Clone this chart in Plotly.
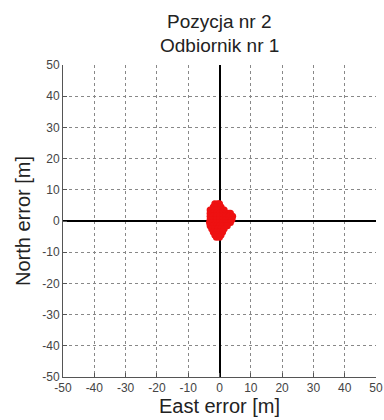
import plotly.graph_objects as go

# Data (east/north errors in metres)
rows_north = [5.5, 4.5, 3.5, 2.5, 1.5, 0.5, -0.5, -1.5, -2.5, -3.5, -4.5, -5.2]
rows_east = [
    [-1.5, -0.5, 0.0],
    [-2.0, -1.0, 0.0, 0.5],
    [-3.0, -2.0, -1.0, 0.0, 1.0, 1.5],
    [-3.0, -2.0, -1.0, 0.0, 1.0, 2.0, 3.0, 3.5],
    [-3.0, -2.0, -1.0, 0.0, 1.0, 2.0, 3.0, 4.2],
    [-3.0, -2.0, -1.0, 0.0, 1.0, 2.0, 3.0, 4.0],
    [-3.2, -2.0, -1.0, 0.0, 1.0, 2.0, 3.0, 3.5],
    [-3.0, -2.0, -1.0, 0.0, 1.0, 2.0, 2.5],
    [-2.5, -1.5, -0.5, 0.5, 1.5],
    [-2.0, -1.0, 0.0, 1.0],
    [-1.5, -0.5, 0.5],
    [-1.0, 0.0],
]
east = []
north = []
for n, es in zip(rows_north, rows_east):
    for e in es:
        east.append(e)
        north.append(n)

tick_vals = [-50, -40, -30, -20, -10, 0, 10, 20, 30, 40, 50]
tick_text = [str(v) for v in tick_vals]
title_lines = ["Pozycja nr 2", "Odbiornik nr 1"]

FONT = "Liberation Sans, Arial, sans-serif"

fig = go.Figure()
fig.add_trace(go.Scatter(
    x=east, y=north, mode="markers",
    marker=dict(color="#ee1111", size=7, line=dict(width=0)),
    hoverinfo="skip", showlegend=False,
))

axis_common = dict(
    range=[-50, 50], tickvals=tick_vals, ticktext=tick_text,
    showgrid=True, gridcolor="#888888", griddash="dot", gridwidth=1,
    zeroline=True, zerolinecolor="#000000", zerolinewidth=2,
    showline=True, linecolor="#555555", linewidth=1, mirror=False,
    ticks="inside", ticklen=4, tickcolor="#555555",
    tickfont=dict(family=FONT, size=12, color="#444444"),
    fixedrange=True, automargin=False,
)

fig.update_layout(
    width=384, height=420,
    margin=dict(l=63, r=8, t=65, b=43, autoexpand=False),
    paper_bgcolor="white", plot_bgcolor="white",
    xaxis=dict(**axis_common,
               title=dict(text="East error [m]", standoff=4,
                          font=dict(family=FONT, size=20, color="#222222"))),
    yaxis=dict(**axis_common,
               title=dict(text="North error [m]", standoff=6,
                          font=dict(family=FONT, size=20, color="#222222"))),
)

for line, ypos in zip(title_lines, [1.141, 1.064]):
    fig.add_annotation(
        text=line, x=0.5, xref="paper", y=ypos, yref="paper",
        xanchor="center", yanchor="middle", showarrow=False,
        font=dict(family=FONT, size=19, color="#222222"),
    )

fig.write_html("out.html")
